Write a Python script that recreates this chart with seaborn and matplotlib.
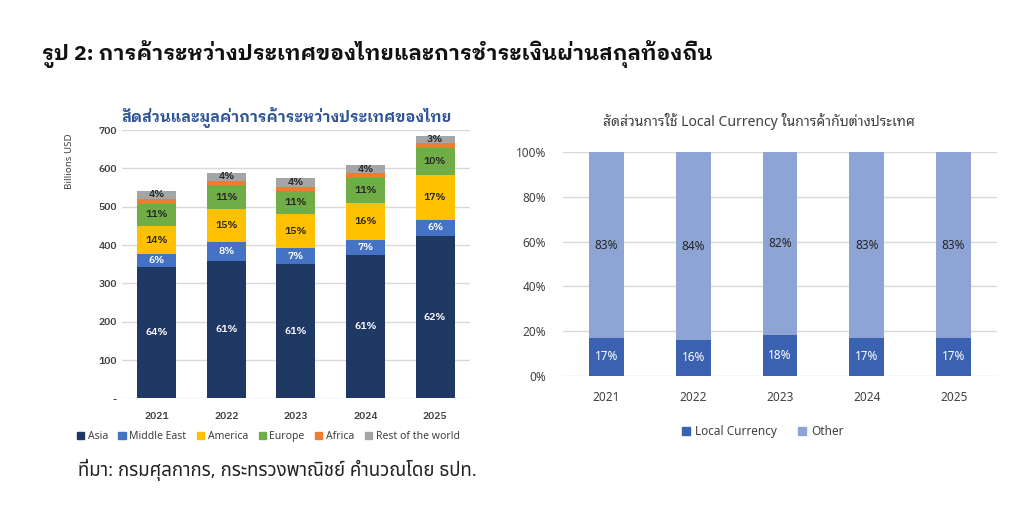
import matplotlib
matplotlib.use("Agg")
import matplotlib.pyplot as plt
from matplotlib.patches import Patch
import numpy as np
import pandas as pd
import seaborn as sns

# ---- data ----
years = ["2021", "2022", "2023", "2024", "2025"]

# trade value by region, billions USD
regions = ["Asia", "Middle East", "America", "Europe", "Africa", "Rest of the world"]
asia = [343, 359, 350, 373, 424]
middle_east = [33, 48, 41, 40, 41]
america = [74, 86, 89, 96, 117]
europe = [58, 63, 62, 67, 72]
africa = [11, 12, 10, 11, 11]
rest = [23, 21, 23, 21, 20]

# share labels printed on the segments
asia_lbl = ["64%", "61%", "61%", "61%", "62%"]
me_lbl = ["6%", "8%", "7%", "7%", "6%"]
america_lbl = ["14%", "15%", "15%", "16%", "17%"]
europe_lbl = ["11%", "11%", "11%", "11%", "10%"]
africa_lbl = ["", "", "", "", ""]
rest_lbl = ["4%", "4%", "4%", "4%", "3%"]

# share of local currency in foreign trade, percent
local_ccy = [17, 16, 18, 17, 17]
other_ccy = [83, 84, 82, 83, 83]

region_colors = ["#203864", "#4472C4", "#FFC000", "#70AD47", "#ED7D31", "#A5A5A5"]
label_colors = ["white", "white", "#262626", "#262626", "#262626", "#262626"]
local_color = "#3B62B0"
other_color = "#8EA4D4"

sns.set_style("white")
plt.rcParams["font.family"] = ["Noto Sans Thai Looped", "DejaVu Sans"]
bold_family = ["IBM Plex Sans Thai Looped", "DejaVu Sans"]

fig = plt.figure(figsize=(10.24, 5.19), dpi=100)

fig.text(0.041, 0.895, "รูป 2: การค้าระหว่างประเทศของไทยและการชำระเงินผ่านสกุลท้องถิ่น",
         fontsize=15.2, fontweight="bold", color="#111111", va="center",
         family=bold_family)

# ---- left: stacked trade value ----
ax1 = fig.add_axes([0.1191, 0.2325, 0.3398, 0.517])
series = [asia, middle_east, america, europe, africa, rest]
labels = [asia_lbl, me_lbl, america_lbl, europe_lbl, africa_lbl, rest_lbl]
cum = np.cumsum(np.array(series), axis=0)
df_left = pd.DataFrame({"year": years})
for i in range(len(regions) - 1, -1, -1):
    df_left["top"] = cum[i]
    sns.barplot(data=df_left, x="year", y="top", color=region_colors[i],
                width=0.56, linewidth=0, saturation=1, ax=ax1)
for i in range(len(regions)):
    lows = cum[i] - np.array(series[i])
    for j in range(len(years)):
        if labels[i][j]:
            ax1.text(j, lows[j] + series[i][j] / 2, labels[i][j], ha="center",
                     va="center", fontsize=7.5, color=label_colors[i],
                     fontweight="semibold", family=bold_family)
ax1.set_ylim(0, 700)
ax1.set_xlim(-0.5, 4.5)
ax1.set_yticks(range(0, 701, 100))
ax1.set_yticklabels(["-"] + [str(v) for v in range(100, 701, 100)])
ax1.yaxis.grid(True, color="#D9D9D9", linewidth=1)
ax1.set_axisbelow(True)
sns.despine(ax=ax1, left=True, bottom=True)
ax1.tick_params(axis="both", length=0, labelsize=7.5, colors="#404040")
ax1.tick_params(axis="x", pad=10)
for t in ax1.get_xticklabels() + ax1.get_yticklabels():
    t.set_fontweight("semibold")
    t.set_family(bold_family)
ax1.set_xlabel("")
ax1.set_ylabel("")
fig.text(0.068, 0.69, "Billions USD", rotation=90, fontsize=7, color="#404040",
         ha="center", va="center")
fig.text(0.280, 0.774, "สัดส่วนและมูลค่าการค้าระหว่างประเทศของไทย", fontsize=11,
         fontweight="bold", color="#2F5597", ha="center", va="center",
         family=bold_family)
fig.legend(handles=[Patch(color=c, label=r) for c, r in zip(region_colors, regions)],
           loc="center", bbox_to_anchor=(0.262, 0.158), ncol=6, frameon=False,
           fontsize=7.5, handlelength=0.7, handleheight=0.7, handletextpad=0.35,
           columnspacing=1.0, labelcolor="#404040")

# ---- right: local currency share ----
ax2 = fig.add_axes([0.5498, 0.2761, 0.4238, 0.4304])
df_right = pd.DataFrame({"year": years, "local": local_ccy,
                         "total": np.array(local_ccy) + np.array(other_ccy)})
sns.barplot(data=df_right, x="year", y="total", color=other_color, width=0.4,
            linewidth=0, saturation=1, ax=ax2)
sns.barplot(data=df_right, x="year", y="local", color=local_color, width=0.4,
            linewidth=0, saturation=1, ax=ax2)
for j in range(len(years)):
    ax2.text(j, local_ccy[j] / 2, f"{local_ccy[j]}%", ha="center", va="center",
             fontsize=8.5, color="white")
    ax2.text(j, local_ccy[j] + other_ccy[j] / 2, f"{other_ccy[j]}%", ha="center",
             va="center", fontsize=8.5, color="#262626")
ax2.set_ylim(0, 100)
ax2.set_xlim(-0.5, 4.5)
ax2.set_yticks(range(0, 101, 20))
ax2.set_yticklabels([f"{v}%" for v in range(0, 101, 20)])
ax2.yaxis.grid(True, color="#D9D9D9", linewidth=1)
ax2.set_axisbelow(True)
sns.despine(ax=ax2, left=True, bottom=True)
ax2.tick_params(axis="both", length=0, labelsize=8.5, colors="#404040")
ax2.tick_params(axis="x", pad=11)
ax2.tick_params(axis="y", pad=12)
ax2.set_xlabel("")
ax2.set_ylabel("")
fig.text(0.741, 0.766, "สัดส่วนการใช้ Local Currency ในการค้ากับต่างประเทศ", fontsize=10,
         color="#404040", ha="center", va="center")
fig.legend(handles=[Patch(color=local_color, label="Local Currency"),
                    Patch(color=other_color, label="Other")],
           loc="center", bbox_to_anchor=(0.745, 0.168), ncol=2, frameon=False,
           fontsize=8.5, handlelength=0.7, handleheight=0.7, handletextpad=0.4,
           columnspacing=1.8, labelcolor="#404040")

fig.text(0.076, 0.094, "ที่มา: กรมศุลกากร, กระทรวงพาณิชย์ คำนวณโดย ธปท.", fontsize=13.4,
         color="#222222", va="center", family=["Noto Sans Thai", "DejaVu Sans"])

fig.savefig("out.png", dpi=100)
